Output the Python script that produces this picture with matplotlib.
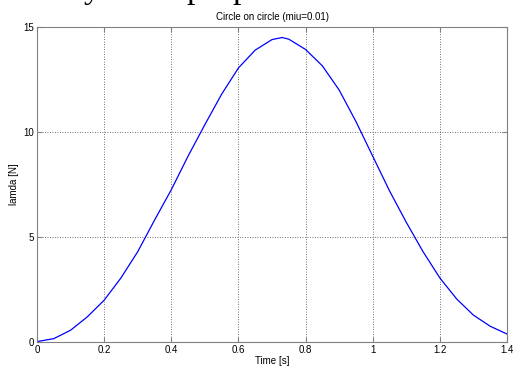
import matplotlib
matplotlib.use('Agg')
import matplotlib.pyplot as plt

# Values
time_s = [0.0, 0.05, 0.1, 0.15, 0.2, 0.25, 0.3, 0.35, 0.4, 0.45, 0.5, 0.55,
          0.6, 0.65, 0.7, 0.73, 0.75, 0.8, 0.85, 0.9, 0.95, 1.0, 1.05, 1.1,
          1.15, 1.2, 1.25, 1.3, 1.35, 1.4]
lamda_n = [0.02, 0.16, 0.56, 1.2, 1.99, 3.05, 4.3, 5.8, 7.25, 8.85, 10.35, 11.8,
           13.05, 13.9, 14.4, 14.5, 14.42, 13.93, 13.15, 12.0, 10.5, 8.85, 7.2, 5.7,
           4.3, 3.05, 2.05, 1.28, 0.75, 0.38]
x_ticks = [0, 0.2, 0.4, 0.6, 0.8, 1, 1.2, 1.4]
x_tick_labels = ['0', '0.2', '0.4', '0.6', '0.8', '1', '1.2', '1.4']
y_ticks = [0, 5, 10, 15]

plt.rcParams['font.family'] = ['Liberation Sans', 'DejaVu Sans']

fig = plt.figure(figsize=(5.13, 3.70), dpi=100)
ax = fig.add_axes([37 / 513, 28 / 370, 470 / 513, 315 / 370])

ax.plot(time_s, lamda_n, color='#0000ff', linewidth=0.9)

ax.set_xlim(0, 1.4)
ax.set_ylim(0, 15)
ax.set_xticks(x_ticks)
ax.set_xticklabels(x_tick_labels)
ax.set_yticks(y_ticks)

ax.grid(True, linestyle=(0, (1, 2)), color='#444444', linewidth=0.6)
for s in ax.spines.values():
    s.set_color('#808080')
    s.set_linewidth(0.8)
ax.tick_params(direction='in', length=3.5, width=0.8, color='#808080',
               labelsize=7, top=True, right=True, pad=2)

ax.set_title('Circle on circle (miu=0.01)', fontsize=7, pad=5)
ax.set_xlabel('Time [s]', fontsize=7, labelpad=1)
ax.set_ylabel('lamda [N]', fontsize=7, labelpad=3)

# remnants of the page text above the figure: only the descenders show
for ch, px in [('y', 84), ('p', 186), ('p', 232)]:
    fig.text(px / 513, 1 + 2 / 370, ch, family='Liberation Serif', fontsize=24,
             va='baseline', ha='left')

fig.savefig('out.png', dpi=100, facecolor='white')
